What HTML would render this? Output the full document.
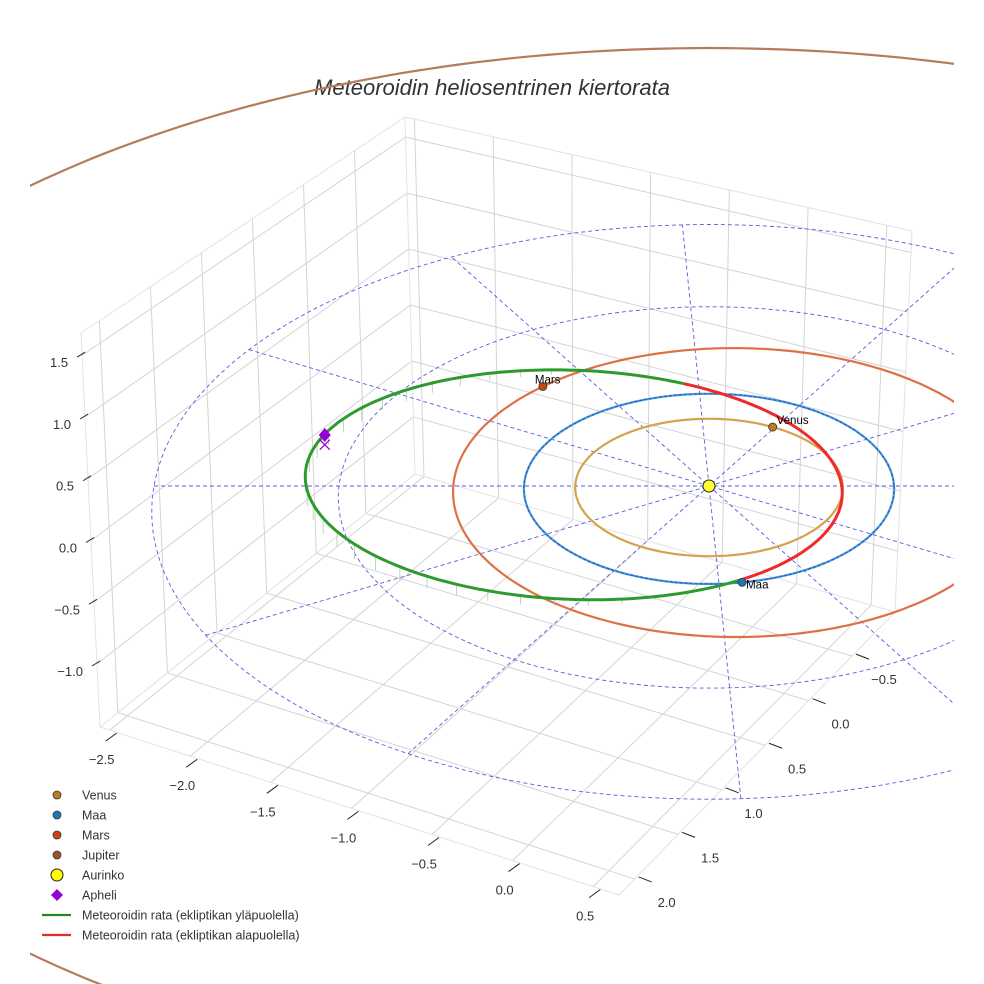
<!DOCTYPE html>
<html><head><meta charset="utf-8"><style>
html,body{margin:0;padding:0;background:#fff;overflow:hidden;}
svg{display:block;font-family:"Liberation Sans",sans-serif;}
</style></head><body>
<svg id="chart" width="984" height="984" viewBox="0 0 984 984" xmlns="http://www.w3.org/2000/svg">
<defs><clipPath id="clip"><rect x="30" y="0" width="924" height="984"/></clipPath></defs>
<text x="492" y="95" text-anchor="middle" font-size="22" font-style="italic" fill="#333">Meteoroidin heliosentrinen kiertorata</text>
<g id="grid"></g>
<g id="plot" clip-path="url(#clip)"></g>
<g id="legend"></g>
</svg>
<script>
// ---- data ----
const xTicks = [-2.5,-2.0,-1.5,-1.0,-0.5,0.0,0.5];
const yTicks = [2.0,1.5,1.0,0.5,0.0,-0.5];
const zTicks = [1.5,1.0,0.5,0.0,-0.5,-1.0];
const planetNames = ['Venus','Maa','Mars','Jupiter'];
const planetA = [0.723,1.0,1.524,5.35];
const planetE = [0.0,0.0,0.093,0.0];
const planetAngle = [-61,80,-130.6,null];
const orbitColors = ['#d6a24c','#4c9ad4','#de7048','#b57c5c'];
const markerColors = ['#c27c1c','#1f77b4','#cc4410','#a0522d'];
const gridRadii = [1,2,3];
const gridAngles = [0,30,60,87,120,150];
const meteorA = 1.45, meteorB = 1.22, meteorC = -0.73;
const nodeE = [52,-67];
const meteorZmax = 0.13;
const apheli = [-2.08,-0.05,0.38];
const apheliProj = [-2.08,-0.05,0.3];

const NS='http://www.w3.org/2000/svg';
function mk(tag, at, parent){const e=document.createElementNS(NS,tag);for(const k in at)e.setAttribute(k,at[k]);parent.appendChild(e);return e;}
const grid=document.getElementById('grid'), plot=document.getElementById('plot'), leg=document.getElementById('legend');

// ---- 3D box (bilinear approx) ----
const xmin=-2.56,xmax=0.66,ymin=-0.995,ymax=2.18,zmin=-1.51,zmax=1.68;
const A=[100,727],B=[619,895],C=[895,612],D=[415,474],Ap=[81,333],Dp=[405,117],Cp=[912,231];
function bil(p00,p10,p11,p01,s,t){
  return [p00[0]*(1-s)*(1-t)+p10[0]*s*(1-t)+p11[0]*s*t+p01[0]*(1-s)*t,
          p00[1]*(1-s)*(1-t)+p10[1]*s*(1-t)+p11[1]*s*t+p01[1]*(1-s)*t];}
function ln(p,q,st,w,parent){return mk('line',{x1:p[0],y1:p[1],x2:q[0],y2:q[1],stroke:st,'stroke-width':w},parent);}
function floorPt(x,y){return bil(A,B,C,D,(x-xmin)/(xmax-xmin),(ymax-y)/(ymax-ymin));}
function leftPt(y,z){return bil(A,D,Dp,Ap,(ymax-y)/(ymax-ymin),(z-zmin)/(zmax-zmin));}
function backPt(x,z){return bil(D,C,Cp,Dp,(x-xmin)/(xmax-xmin),(z-zmin)/(zmax-zmin));}
const gc='#d4d4d4';
xTicks.forEach(x=>{let l=ln(floorPt(x,ymax),floorPt(x,ymin),gc,1,grid);

l=ln(backPt(x,zmin),backPt(x,zmax),gc,1,grid);
});
yTicks.forEach(y=>{let l=ln(floorPt(xmin,y),floorPt(xmax,y),gc,1,grid);

l=ln(leftPt(y,zmin),leftPt(y,zmax),gc,1,grid);
});
zTicks.forEach(z=>{let l=ln(leftPt(ymax,z),leftPt(ymin,z),gc,1,grid);

l=ln(backPt(xmin,z),backPt(xmax,z),gc,1,grid);
});
[[A,B],[B,C],[C,D],[D,A],[A,Ap],[Ap,Dp],[Dp,D],[Dp,Cp],[Cp,C]].forEach(e=>{const l=ln(e[0],e[1],'#e2e2e2',1,grid);
});
xTicks.forEach(x=>{const p=floorPt(x,ymax);const l=ln([p[0]-4,p[1]+11],[p[0]+7,p[1]+3],'#222',1,grid);

const t=mk('text',{x:p[0]-8,y:p[1]+34,'font-size':13,'text-anchor':'middle',fill:'#333'},grid);t.textContent=(x<0?'\u2212':'')+Math.abs(x).toFixed(1);
});
yTicks.forEach(y=>{const p=floorPt(xmax,y);const l=ln([p[0]+4,p[1]-2],[p[0]+17,p[1]+3],'#222',1,grid);

const t=mk('text',{x:p[0]+32,y:p[1]+28,'font-size':13,'text-anchor':'middle',fill:'#333'},grid);t.textContent=(y<0?'\u2212':'')+Math.abs(y).toFixed(1);
});
zTicks.forEach(z=>{const p=leftPt(ymax,z);const l=ln([p[0]-5,p[1]+2],[p[0]+3,p[1]-3],'#222',1,grid);

const t=mk('text',{x:p[0]-14,y:p[1]+12,'font-size':13,'text-anchor':'end',fill:'#333'},grid);t.textContent=(z<0?'\u2212':'')+Math.abs(z).toFixed(1);
});

// ---- ecliptic projection ----
function P(u,v,z){z=z||0;const k=1/(1-0.03*v);return [709+185*u*k,486+95*v*k-z*122*k];}
function pathFrom(pts){return pts.map((p,i)=>(i?'L':'M')+p[0].toFixed(1)+','+p[1].toFixed(1)).join('');}
function orbitPts(a,e,peri,n){const pts=[];for(let i=0;i<=n;i++){const th=i/n*2*Math.PI;const r=a*(1-e*e)/(1+e*Math.cos(th-peri));pts.push(P(r*Math.cos(th),r*Math.sin(th)));}return pts;}
gridRadii.forEach(r=>{const el=mk('path',{d:pathFrom(orbitPts(r,0,0,240)),fill:'none',stroke:'#5a5ae0','stroke-width':0.9,'stroke-dasharray':'4,3'},plot);
});
const R=gridRadii[gridRadii.length-1];
gridAngles.forEach(a=>{const t=a*Math.PI/180;const el=ln(P(R*Math.cos(t),R*Math.sin(t)),P(-R*Math.cos(t),-R*Math.sin(t)),'#5a5ae0',0.9,plot);
el.setAttribute('stroke-dasharray','4,3');
});
planetNames.forEach((n,i)=>{const el=mk('path',{d:pathFrom(orbitPts(planetA[i],planetE[i],Math.PI,360)),fill:'none',stroke:orbitColors[i],'stroke-width':2.2},plot);
});
const ed=mk('path',{d:pathFrom(orbitPts(1,0,0,360)),fill:'none',stroke:'#1f5fd0','stroke-width':1.1,'stroke-dasharray':'3,2'},plot);


// ---- meteoroid orbit ----
function mUV(E){const r=E*Math.PI/180;return [meteorC+meteorA*Math.cos(r),meteorB*Math.sin(r)];}
const n1=mUV(nodeE[0]),n2=mUV(nodeE[1]);
function side(p){return (p[0]-n1[0])*(n2[1]-n1[1])-(p[1]-n1[1])*(n2[0]-n1[0]);}
const sAph=side(mUV(180));
function mZ(E){return meteorZmax*side(mUV(E))/sAph;}
for(let E=-180;E<180;E+=7){const z=mZ(E);if(z>0.01){const uv=mUV(E);const el=ln(P(uv[0],uv[1],z),P(uv[0],uv[1],0),'#a8cfa8',0.8,plot);
}}
let seg=[],segSign=null;
function flush(){if(seg.length>1){const el=mk('path',{d:pathFrom(seg),fill:'none',stroke:segSign>0?'#2e9a2e':'#ee2a2a','stroke-width':3},plot);
}}
for(let E=-180;E<=180;E+=1){const uv=mUV(E),z=mZ(E),s=z>=0?1:-1;const p=P(uv[0],uv[1],z);
if(segSign!==null&&s!==segSign){seg.push(p);flush();seg=[seg[seg.length-1]];}
segSign=s;seg.push(p);}
flush();

// ---- markers ----
planetNames.forEach((n,i)=>{if(planetAngle[i]===null)return;const t=planetAngle[i]*Math.PI/180;
const r=planetA[i]*(1-planetE[i]*planetE[i])/(1+planetE[i]*Math.cos(t-Math.PI));
const p=P(r*Math.cos(t),r*Math.sin(t));
const c=mk('circle',{cx:p[0],cy:p[1],r:4,fill:markerColors[i],stroke:'#333','stroke-width':0.8},plot);


const tx=mk('text',{x:p[0]+(n==='Mars'?-8:4),y:p[1]+(n==='Maa'?6:-3),'font-size':11.5,fill:'#000'},plot);tx.textContent=n;
});
const sun=P(0,0);
const sc=mk('circle',{cx:sun[0],cy:sun[1],r:6,fill:'#ffff33',stroke:'#222','stroke-width':1},plot);


const ap=P(apheli[0],apheli[1],apheli[2]);
const dm=mk('path',{d:`M${ap[0]},${ap[1]-7}L${ap[0]+6},${ap[1]}L${ap[0]},${ap[1]+7}L${ap[0]-6},${ap[1]}Z`,fill:'#9400d3'},plot);


const ax=P(apheliProj[0],apheliProj[1],apheliProj[2]);
const xm=mk('path',{d:`M${ax[0]-5},${ax[1]-5}L${ax[0]+5},${ax[1]+5}M${ax[0]+5},${ax[1]-5}L${ax[0]-5},${ax[1]+5}`,stroke:'#9400d3','stroke-width':1.3},plot);


// ---- legend ----
const legLabels=['Venus','Maa','Mars','Jupiter','Aurinko','Apheli','Meteoroidin rata (ekliptikan yläpuolella)','Meteoroidin rata (ekliptikan alapuolella)'];
legLabels.forEach((lab,i)=>{const y=795+i*20;const g=mk('g',{},leg);


if(i<4){mk('circle',{cx:57,cy:y,r:4,fill:markerColors[i],stroke:'#333','stroke-width':0.8},g);}
else if(i===4){mk('circle',{cx:57,cy:y,r:6,fill:'#ffff00',stroke:'#222','stroke-width':1},g);}
else if(i===5){mk('path',{d:`M57,${y-6}L63,${y}L57,${y+6}L51,${y}Z`,fill:'#9400d3'},g);}
else{mk('line',{x1:42,y1:y,x2:71,y2:y,stroke:i===6?'#1f8a1f':'#e62b2b','stroke-width':2.2},g);}
const t=mk('text',{x:82,y:y+4.5,'font-size':12.5,fill:'#333'},g);t.textContent=lab;});
</script>
</body></html>
